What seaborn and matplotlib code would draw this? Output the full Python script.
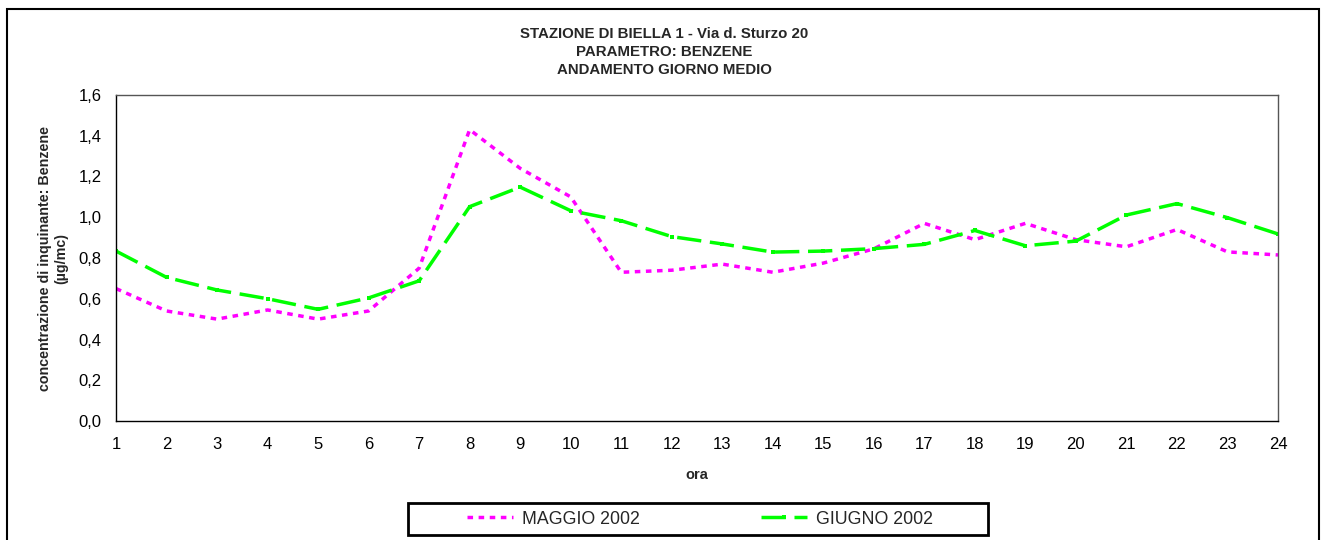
import numpy as np
import pandas as pd
import seaborn as sns
import matplotlib.pyplot as plt
from matplotlib.patches import Rectangle
from matplotlib.ticker import FuncFormatter

# hours of the day and the two monthly mean profiles (ug/mc)
ORE = list(range(1, 25))
MAGGIO = [0.65, 0.54, 0.50, 0.545, 0.50, 0.54, 0.75, 1.43, 1.24, 1.10, 0.73, 0.74,
          0.77, 0.73, 0.775, 0.845, 0.97, 0.89, 0.97, 0.89, 0.855, 0.94, 0.83, 0.815]
GIUGNO = [0.834, 0.705, 0.643, 0.60, 0.548, 0.604, 0.688, 1.052, 1.148, 1.032, 0.983, 0.905,
          0.869, 0.829, 0.834, 0.846, 0.867, 0.935, 0.86, 0.883, 1.011, 1.067, 0.998, 0.918]
Y_TICKS = [0.0, 0.2, 0.4, 0.6, 0.8, 1.0, 1.2, 1.4, 1.6]

TITLE = "STAZIONE DI BIELLA 1 - Via d. Sturzo 20\nPARAMETRO: BENZENE\nANDAMENTO GIORNO MEDIO"
Y_LABEL = "concentrazione di inquinante: Benzene\n(µg/mc)"

W, H = 1324, 540

sns.set_style("white")
plt.rcParams['font.family'] = ['Liberation Sans', 'DejaVu Sans']

df = pd.DataFrame({"ora": ORE, "MAGGIO 2002": MAGGIO, "GIUGNO 2002": GIUGNO})

fig = plt.figure(figsize=(W / 100, H / 100), dpi=100)
ax = fig.add_axes([116 / W, 1 - 421 / H, (1278 - 116) / W, (421 - 95) / H])

sns.lineplot(data=df, x="ora", y="MAGGIO 2002", ax=ax, color="#FF00FF",
             linewidth=2.5, linestyle=(0, (1.6, 1.6)), label="MAGGIO 2002")
sns.lineplot(data=df, x="ora", y="GIUGNO 2002", ax=ax, color="#00FF00",
             linewidth=2.5, linestyle=(0, (7, 2.5)), marker="s", markersize=3,
             markeredgewidth=0, label="GIUGNO 2002")

ax.set_xlim(1, 24)
ax.set_ylim(0, 1.6)
ax.set_xticks(ORE)
ax.set_yticks(Y_TICKS)
ax.yaxis.set_major_formatter(FuncFormatter(lambda v, p: f"{v:.1f}".replace(".", ",")))
ax.tick_params(direction="inout", length=9, width=1, colors="black", labelsize=12)
ax.tick_params(axis="y", pad=6)
ax.tick_params(axis="x", pad=7)
ax.set_xlabel("")
ax.set_ylabel("")

for side in ["left", "bottom"]:
    ax.spines[side].set_color("black")
    ax.spines[side].set_linewidth(1)
for side in ["top", "right"]:
    ax.spines[side].set_color("#555555")
    ax.spines[side].set_linewidth(1)

fig.text(664 / W, 1 - 52 / H, TITLE, ha="center", va="center",
         fontsize=10.8, fontweight="bold", linespacing=1.38)
fig.text(53 / W, 1 - 258 / H, Y_LABEL, ha="center", va="center", rotation=90,
         fontsize=10.3, fontweight="bold", linespacing=1.15)
fig.text(697 / W, 1 - 475 / H, "ora", ha="center", va="center",
         fontsize=10.5, fontweight="bold")

leg = ax.legend(loc="center", bbox_to_anchor=(700 / W, 1 - 519 / H),
                bbox_transform=fig.transFigure, ncol=2, frameon=False,
                fontsize=12.8, handlelength=2.6, columnspacing=6.8,
                handletextpad=0.5)

# legend box and outer chart border
fig.patches.append(Rectangle((408 / W, 1 - 535 / H), (988 - 408) / W, 32 / H,
                             transform=fig.transFigure, fill=False,
                             edgecolor="black", linewidth=2))
fig.patches.append(Rectangle((7 / W, -0.02), (1319 - 7) / W, 1.02 - 9 / H,
                             transform=fig.transFigure, fill=False,
                             edgecolor="black", linewidth=1.5))

fig.savefig("out.png", dpi=100)
